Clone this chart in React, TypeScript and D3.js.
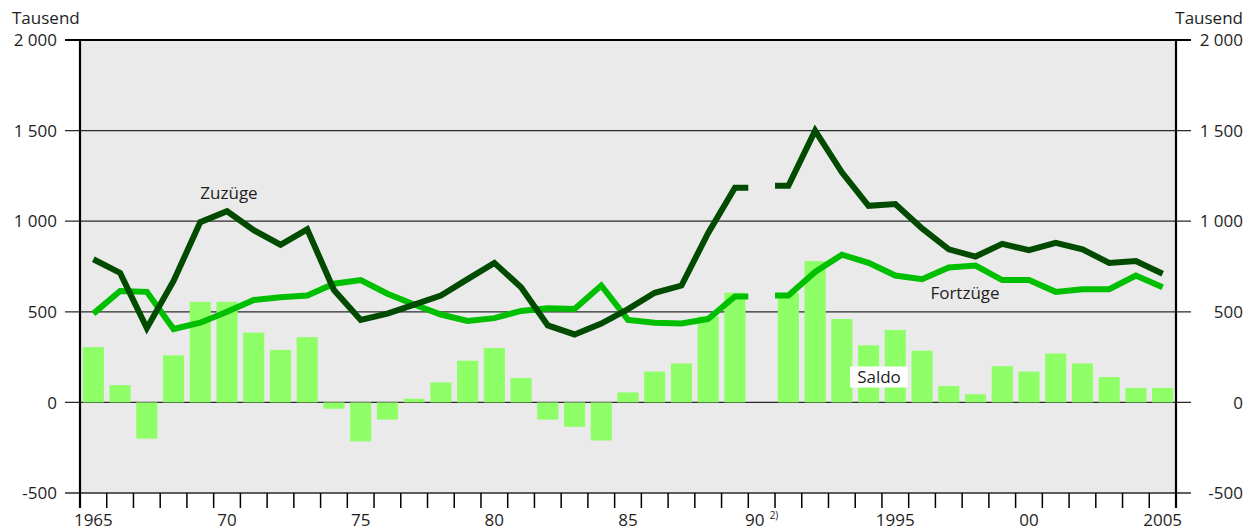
import React from "react";
import * as d3 from "d3";

const years: number[] = d3.range(1965, 2006);
const zuzuege: (number | null)[] = [
  790, 715, 410, 670, 995, 1055, 950, 870, 955, 620,
  455, 490, 540, 590, 680, 770, 635, 425, 375, 435,
  515, 605, 645, 935, 1185, null, 1195, 1500, 1270, 1085,
  1095, 960, 845, 805, 875, 840, 880, 845, 770, 780, 710,
];
const fortzuege: (number | null)[] = [
  490, 615, 610, 405, 440, 500, 565, 580, 590, 655,
  675, 600, 540, 485, 450, 465, 505, 520, 515, 645,
  455, 440, 435, 460, 585, null, 590, 720, 815, 770,
  700, 680, 745, 755, 675, 675, 610, 625, 625, 700, 635,
];
const saldo: (number | null)[] = [
  305, 95, -200, 260, 555, 555, 385, 290, 360, -35,
  -215, -95, 20, 110, 230, 300, 135, -95, -135, -210,
  55, 170, 215, 475, 605, null, 605, 780, 460, 315,
  400, 285, 90, 45, 200, 170, 270, 215, 140, 80, 80,
];
const yTicks: number[] = [-500, 0, 500, 1000, 1500, 2000];
const xLabelYears: number[] = [1965, 1970, 1975, 1980, 1985, 1990, 1995, 2000, 2005];
const xLabelTexts: string[] = ["1965", "70", "75", "80", "85", "90", "1995", "00", "2005"];

const W = 1257;
const H = 531;
const left = 80;
const right = 1176;
const top = 40;
const bottom = 493;

const FONT = "'Open Sans', sans-serif";
const TEXT = "#1e1e1e";

export default function App() {
  const x = d3.scaleLinear().domain([1965, 2006]).range([left, right]);
  const y = d3.scaleLinear().domain([-500, 2000]).range([bottom, top]);
  const bandW = x(1966) - x(1965);
  const barW = bandW * 0.79;

  const buildPts = (vals: (number | null)[]) => {
    const pts: ([number, number] | null)[] = [];
    vals.forEach((v, i) => {
      if (v == null) {
        pts.push(null);
        return;
      }
      const yr = years[i];
      if (i > 0 && vals[i - 1] == null) pts.push([x(yr), y(v)]);
      pts.push([x(yr + 0.5), y(v)]);
      if (i < vals.length - 1 && vals[i + 1] == null) pts.push([x(yr + 1), y(v)]);
    });
    return pts;
  };
  const line = d3
    .line<[number, number] | null>()
    .defined((d) => d != null)
    .x((d) => (d as [number, number])[0])
    .y((d) => (d as [number, number])[1]);

  const xTickYears = d3.range(1965, 2007);

  return (
    <svg
      width={W}
      height={H}
      style={{ position: "absolute", left: 0, top: 0, background: "#fff" }}
      fontFamily={FONT}
    >
      <rect x={left} y={top} width={right - left} height={bottom - top} fill="#eaeaea" />
      {/* grid lines + ticks */}
      {yTicks.map((t) => (
        <line
          key={"g" + t}
          x1={left - 15}
          x2={right + 15}
          y1={y(t)}
          y2={y(t)}
          stroke={t === 2000 ? "#000" : "#2a2a2a"}
          strokeWidth={t === 2000 ? 1.8 : 1.3}
        />
      ))}
      {/* bars */}
      {saldo.map((v, i) =>
        v == null ? null : (
          <rect
            key={"b" + i}
            x={x(years[i] + 0.5) - barW / 2}
            y={y(Math.max(0, v))}
            width={barW}
            height={Math.abs(y(v) - y(0))}
            fill="#8eff66"
          />
        )
      )}
      {/* lines */}
      <path d={line(buildPts(fortzuege)) || ""} fill="none" stroke="#00bf00" strokeWidth={6} />
      <path d={line(buildPts(zuzuege)) || ""} fill="none" stroke="#004b00" strokeWidth={6} />
      {/* axes */}
      <line x1={left} x2={left} y1={top - 1} y2={bottom + 15} stroke="#000" strokeWidth={2.2} />
      <line x1={right} x2={right} y1={top - 1} y2={bottom + 15} stroke="#000" strokeWidth={2.2} />
      {xTickYears.map((yr) => (
        <line key={"xt" + yr} x1={x(yr)} x2={x(yr)} y1={bottom} y2={bottom + 15} stroke="#000" strokeWidth={1.5} />
      ))}
      {/* y labels */}
      {yTicks.map((t) => {
        const label = t === -500 ? "-500" : d3.format(",")(t).replace(/,/g, "\u2009");
        return (
          <g key={"yl" + t}>
            <text x={57} y={y(t)} dy="0.36em" textAnchor="end" fontSize={17} fill={TEXT}>
              {t >= 1000 ? label.replace("\u2009", " ") : label}
            </text>
            <text x={1243} y={y(t)} dy="0.36em" textAnchor="end" fontSize={17} fill={TEXT}>
              {t >= 1000 ? label.replace("\u2009", " ") : label}
            </text>
          </g>
        );
      })}
      <text x={12} y={24} fontSize={17} fill={TEXT}>Tausend</text>
      <text x={1243} y={24} fontSize={17} fill={TEXT} textAnchor="end">Tausend</text>
      {/* x labels */}
      {xLabelYears.map((yr, i) => (
        <text
          key={"xl" + yr}
          x={x(yr + 0.5) - (yr === 1990 ? 7 : 0)}
          y={526}
          fontSize={17}
          fill={TEXT}
          textAnchor="middle"
        >
          {xLabelTexts[i]}
        </text>
      ))}
      <text x={x(1990.5) + 8} y={519} fontSize={10} fill={TEXT}>2)</text>
      {/* series labels */}
      <text x={229} y={199} fontSize={17} fill={TEXT} textAnchor="middle">Zuzüge</text>
      <text x={965} y={299} fontSize={17} fill={TEXT} textAnchor="middle">Fortzüge</text>
      <rect x={850} y={366.5} width={57.5} height={21} fill="#fff" />
      <text x={879} y={383} fontSize={17} fill={TEXT} textAnchor="middle">Saldo</text>
    </svg>
  );
}
